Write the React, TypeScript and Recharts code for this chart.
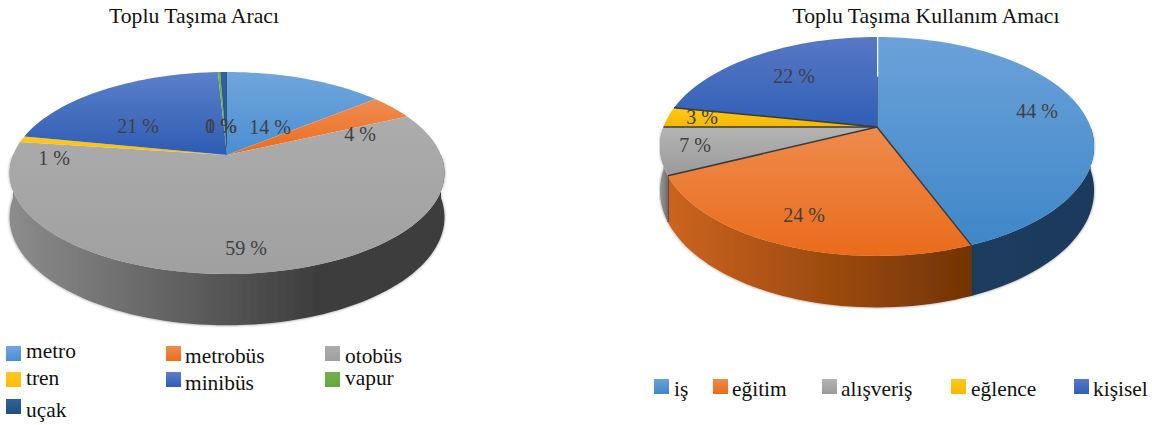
import React from 'react';
import { PieChart, Pie, Legend } from 'recharts';

const FONT = '"Liberation Serif", serif';

// transport mode shares
const modeNames = ['metro', 'metrobüs', 'otobüs', 'tren', 'minibüs', 'vapur', 'uçak'];
const modeValues = [14, 4, 59, 1, 21, 0.2, 0.6];
const modeTop = [
  ['#70a5dc', '#4a8fd2'],
  ['#ee8d52', '#ec6c1a'],
  ['#acacac', '#a0a0a0'],
  ['#ffc824', '#fbbc04'],
  ['#5c80c9', '#2e5cb4'],
  ['#74b04a', '#66a83c'],
  ['#2f6299', '#1f4f80'],
];
const modeWall = [
  ['#3f7ab8', '#2d5f94'],
  ['#c8621c', '#a04c12'],
  ['#8c8c8c', '#3c3c3c'],
  ['#c89a10', '#a07a08'],
  ['#2e5aa8', '#204a88'],
  ['#5a9038', '#4a7a2a'],
  ['#1b4470', '#123458'],
];

// trip purpose shares
const purposeNames = ['iş', 'eğitim', 'alışveriş', 'eğlence', 'kişisel'];
const purposeValues = [44, 24, 7, 3, 22];
const purposeTop = [
  ['#6ba1da', '#3f87c8'],
  ['#ee8b4e', '#ea6b1a'],
  ['#b4b4b4', '#9a9a9a'],
  ['#ffc81e', '#f4b800'],
  ['#5878c6', '#2f5fb6'],
];
const purposeWall = [
  ['#1c3c5f', '#1b3a5a'],
  ['#cc641e', '#723404'],
  ['#989898', '#707070'],
  ['#c89a10', '#a07a08'],
  ['#2e5aa8', '#204a88'],
];

// perspective disc: apex, half-width, top face reach and lower rim reach
const modeDisc = { ax: 227, ay: 155, ay2: 198, b: 214, a: 97.8, a2: 104.6, k: 0.178 };
const purposeDisc = { ax: 301, ay: 127, ay2: 170, b: 213.6, a: 106, a2: 113, k: 0.178 };

// label centres relative to the apex
const modeLabelOffset = [[43, -21], [133, -14], [19, 100], [-173, 10], [-89, -22], [-6, -22], [-6, -22]];
const purposeLabelOffset = [[160, -9], [-73, 95], [-182, 25], [-175, -3], [-83, -44]];

// legend rows: swatch left, swatch top, text left, text baseline
const modeLegend = [
  [6, 346, 26, 358], [166, 346, 185, 363], [325, 346, 345, 363],
  [6, 372, 26, 385], [166, 372, 185, 390], [325, 372, 345, 385],
  [6, 399, 26, 417],
];
const purposeLegend = [
  [78, 379, 98, 396], [137, 379, 156, 396], [246, 379, 265, 396],
  [375, 379, 395, 396], [498, 379, 517, 396],
];

type Disc = typeof modeDisc;

const project = (disc: Disc, theta: number, lower = false) => {
  const rad = (theta * Math.PI) / 180;
  const s = Math.sin(rad);
  const t = -Math.cos(rad);
  const d = 1 - disc.k * t;
  return {
    x: disc.ax + (disc.b * s) / d,
    y: lower ? disc.ay2 + (disc.a2 * t) / d : disc.ay + (disc.a * t) / d,
  };
};

const rim = (disc: Disc, from: number, to: number, lower = false) => {
  const pts = [];
  const steps = Math.max(2, Math.ceil(Math.abs(to - from) / 2));
  for (let i = 0; i <= steps; i++) {
    pts.push(project(disc, from + ((to - from) * i) / steps, lower));
  }
  return pts;
};

const toPath = (pts: { x: number; y: number }[]) =>
  pts.map((p, i) => `${i === 0 ? 'M' : 'L'}${p.x.toFixed(2)} ${p.y.toFixed(2)}`).join(' ');

const gradients = (id: string, top: string[][], wall: string[][], wallFade: number) => (
  <defs>
    {top.map((c, i) => (
      <linearGradient key={i} id={`${id}-top-${i}`} x1="0" y1="0" x2="0" y2="1">
        <stop offset="0" stopColor={c[0]} />
        <stop offset="1" stopColor={c[1]} />
      </linearGradient>
    ))}
    {wall.map((c, i) => (
      <linearGradient key={i} id={`${id}-wall-${i}`} x1="0" y1="0" x2="1" y2="0">
        <stop offset="0" stopColor={c[0]} />
        <stop offset={wallFade} stopColor={c[1]} />
        <stop offset="1" stopColor={c[1]} />
      </linearGradient>
    ))}
    <filter id={`${id}-soft`} x="-5%" y="-5%" width="110%" height="110%">
      <feDropShadow dx="0" dy="0" stdDeviation="1.6" floodColor="#000" floodOpacity="0.45" />
    </filter>
  </defs>
);

interface DiscPieProps {
  id: string;
  left: number;
  title: string;
  titleX: number;
  names: string[];
  values: number[];
  top: string[][];
  wall: string[][];
  wallFade: number;
  disc: Disc;
  labelOffset: number[][];
  legend: number[][];
  outlined?: boolean;
}

const DiscPie: React.FC<DiscPieProps> = ({
  id, left, title, titleX, names, values, top, wall, wallFade, disc, labelOffset, legend, outlined,
}) => {
  const data = names.map((name, i) => ({ name, value: values[i], fill: top[i][1] }));

  const drawWall = (props: any) => {
    const from = Math.max(90 - props.startAngle, 90);
    const to = Math.min(90 - props.endAngle, 270);
    if (to <= from) return <g />;
    const upper = rim(disc, from, to);
    const lower = rim(disc, from, to, true).reverse();
    const edge = outlined ? [project(disc, to), project(disc, to, true)] : null;
    return (
      <g>
        <path d={`${toPath([...upper, ...lower])} Z`} fill={`url(#${id}-wall-${props.index})`} filter={`url(#${id}-soft)`} />
        {edge && to < 270 && <path d={toPath(edge)} stroke="#4a4a4a" strokeWidth={1.5} fill="none" />}
      </g>
    );
  };

  const drawTop = (props: any) => {
    const from = 90 - props.startAngle;
    const to = 90 - props.endAngle;
    const apex = { x: disc.ax, y: disc.ay };
    const start = project(disc, from);
    // the first slice's seam is white near the rim, dark towards the apex
    const seam = { x: start.x + (apex.x - start.x) * 0.44, y: start.y + (apex.y - start.y) * 0.44 };
    return (
      <g>
        <path d={`${toPath([apex, ...rim(disc, from, to)])} Z`} fill={`url(#${id}-top-${props.index})`} />
        {outlined && from > 1 && <path d={toPath([apex, start])} stroke="#3a3a3a" strokeWidth={1.5} fill="none" />}
        {outlined && from <= 1 && (
          <g>
            <path d={toPath([seam, apex])} stroke="#5a5a5a" strokeWidth={1.5} fill="none" />
            <path d={toPath([start, seam])} stroke="#ffffff" strokeWidth={2.5} fill="none" />
          </g>
        )}
      </g>
    );
  };

  const drawLabel = (props: any) => {
    const i = names.indexOf(props.name);
    if (i < 0) return <g />;
    return (
      <text
        x={disc.ax + labelOffset[i][0]}
        y={disc.ay + labelOffset[i][1]}
        textAnchor="middle"
        fontFamily={FONT}
        fontSize={20}
        fill="#404040"
      >
        {`${Math.round(values[i])} %`}
      </text>
    );
  };

  const drawLegend = () => (
    <svg width={576} height={425} style={{ display: 'block' }}>
      {names.map((name, i) => (
        <g key={name}>
          <rect x={legend[i][0]} y={legend[i][1]} width={15} height={15} fill={`url(#${id}-top-${i})`} />
          <text x={legend[i][2]} y={legend[i][3]} fontFamily={FONT} fontSize={21.4} fill="#111">
            {name}
          </text>
        </g>
      ))}
    </svg>
  );

  return (
    <div style={{ position: 'absolute', left, top: 0, width: 576, height: 425 }}>
      <PieChart width={576} height={425} margin={{ top: 0, right: 0, bottom: 0, left: 0 }}>
        {gradients(id, top, wall, wallFade)}
        <text x={titleX} y={23} textAnchor="middle" fontFamily={FONT} fontSize={21.7} fill="#111">
          {title}
        </text>
        <Pie
          data={data}
          dataKey="value"
          nameKey="name"
          cx={disc.ax}
          cy={disc.ay}
          outerRadius={disc.b}
          startAngle={90}
          endAngle={-270}
          legendType="none"
          stroke="none"
          shape={drawWall}
          isAnimationActive={false}
        />
        <Pie
          data={data}
          dataKey="value"
          nameKey="name"
          cx={disc.ax}
          cy={disc.ay}
          outerRadius={disc.b}
          startAngle={90}
          endAngle={-270}
          stroke="none"
          shape={drawTop}
          label={drawLabel}
          labelLine={false}
          isAnimationActive={false}
        />
        <Legend content={drawLegend} wrapperStyle={{ position: 'absolute', left: 0, top: 0, width: 576, height: 425 }} />
      </PieChart>
    </div>
  );
};

export default function App() {
  return (
    <div style={{ position: 'absolute', left: 0, top: 0, width: 1152, height: 425, background: '#fff' }}>
      <DiscPie
        id="mode"
        left={0}
        title="Toplu Taşıma Aracı"
        titleX={194}
        names={modeNames}
        values={modeValues}
        top={modeTop}
        wall={modeWall}
        wallFade={0.72}
        disc={modeDisc}
        labelOffset={modeLabelOffset}
        legend={modeLegend}
      />
      <DiscPie
        id="purpose"
        left={576}
        title="Toplu Taşıma Kullanım Amacı"
        titleX={350}
        names={purposeNames}
        values={purposeValues}
        top={purposeTop}
        wall={purposeWall}
        wallFade={1}
        disc={purposeDisc}
        labelOffset={purposeLabelOffset}
        legend={purposeLegend}
        outlined
      />
    </div>
  );
}
